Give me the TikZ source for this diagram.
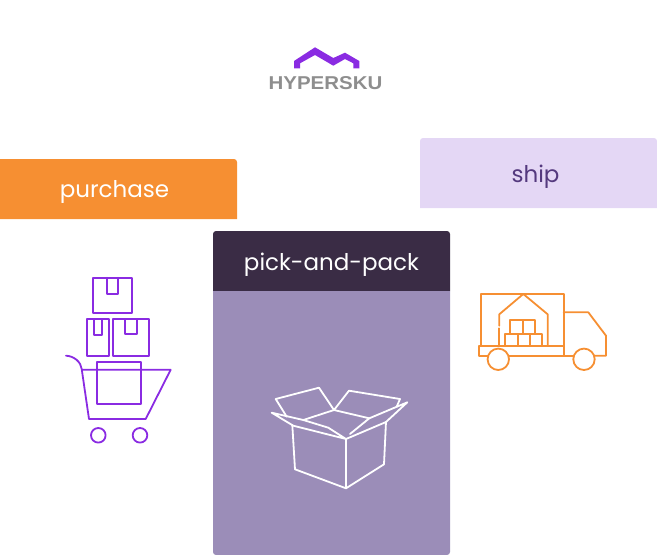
\documentclass[tikz,border=0pt]{standalone}
\usepackage{fontspec}
\setmainfont{Poppins}
\newfontfamily\logofont{Liberation Sans}
\definecolor{logopurple}{HTML}{8A2BE2}
\definecolor{logogray}{HTML}{8E8E8E}
\definecolor{purchasefill}{HTML}{F68F32}
\definecolor{shipfill}{HTML}{E4D7F5}
\definecolor{shiptext}{HTML}{54397E}
\definecolor{packhead}{HTML}{3A2C45}
\definecolor{packbody}{HTML}{9B8DB8}
\begin{document}
\begin{tikzpicture}[x=1pt,y=-1pt,line join=round,line cap=round,
  tab/.style={font=\fontsize{23}{28}\selectfont,inner sep=0pt,anchor=base},
  carticon/.style={draw=logopurple,line width=1.8pt},
  boxicon/.style={draw=white,line width=1.8pt},
  truckicon/.style={draw=purchasefill,line width=1.8pt}]
\useasboundingbox (0,0) rectangle (657,555);
% logo
\fill[logopurple] (294,68.3) -- (294,61) -- (315,47.3) -- (333.3,58) -- (345,52.7) -- (359.3,61)
  -- (359.3,68.3) -- (353.3,68.3) -- (353.3,63.3) -- (345,59) -- (333.3,65.7) -- (315,55)
  -- (300,63.3) -- (300,68.3) -- cycle;
\node (logo) at (325.5,83.5) [inner sep=0pt,text=logogray,xscale=1.1]
  {\logofont\bfseries\fontsize{18.6}{20}\selectfont HYPERSKU};
% tabs
\fill[purchasefill] (0,219) -- (0,159) [rounded corners=3] -- (237,159) [sharp corners] -- (237,219) -- cycle;
\fill[shipfill] (420,208) [rounded corners=3] -- (420,138) -- (657,138) [sharp corners] -- (657,208) -- cycle;
\fill[packhead] (213,291) [rounded corners=3] -- (213,231) -- (450,231) [sharp corners] -- (450,291) -- cycle;
\fill[packbody] (213,291) [rounded corners=3] -- (213,555) -- (450,555) [sharp corners] -- (450,291) -- cycle;
\node (purchase) at (114.5,197) [tab,text=white] {purchase};
\node (ship) at (535.5,182) [tab,text=shiptext] {ship};
\node (pack) at (331.5,270) [tab,text=white] {pick-and-pack};
% cart
\foreach \xa/\ya/\xb/\yb/\fa/\fb/\fy in
{92.7/277.7/132/313.3/106.7/118.3/293.7,
86.7/319/108.7/355.7/94/102.3/335.3,
112.7/319/148.7/355.7/125/137/334.3}
{
\draw[carticon] (\xa,\ya) rectangle (\xb,\yb);
\draw[carticon] (\fa,\ya) -- (\fa,\fy) -- (\fb,\fy) -- (\fb,\ya);
}
\draw[carticon] (97,361.7) rectangle (140.7,403.7);
\draw[carticon] (66,355.7) .. controls (74,356) and (81,362) .. (81.7,369) -- (89,419) -- (145.7,419)
  -- (170.7,369.7) -- (81.7,369.7);
\foreach \xa in {98.3,140}
\draw[carticon] (\xa,435.3) circle (7.3);
% open box
\draw[boxicon] (292.3,425) -- (295,469.3) -- (346,488.3) -- (384,464.3) -- (386,421.7);
\draw[boxicon] (346,439) -- (346,488.3);
\draw[boxicon] (346,439) -- (293.3,425.7) -- (271.7,412.7) -- (303.3,420) -- (328.3,427.7) -- (346,439);
\draw[boxicon] (346,439) -- (386,422) -- (407.3,402.3) -- (369.3,418.3) -- (350,434);
\draw[boxicon] (303.3,420) -- (334,410) -- (369.3,418.3);
\draw[boxicon] (286.7,416.7) -- (275.7,399) -- (319,387.7) -- (334,410) -- (349,390.7) -- (400,399) -- (396.7,406.7);
% truck
\draw[truckicon] (481,346) -- (481,294) -- (563.7,294) -- (563.7,355.7);
\draw[truckicon] (563.7,312.3) -- (588.3,312.3) -- (606,335.7) -- (606,355.7) -- (595,355.7);
\draw[truckicon] (573.3,355.7) -- (509.3,355.7);
\draw[truckicon] (488.3,355.7) -- (479,355.7) -- (479,346) -- (563.7,346);
\foreach \xa in {498.3,584}
\draw[truckicon] (\xa,359.3) circle (10.7);
\draw[truckicon] (499.3,346) -- (499.3,328.3);
\draw[truckicon] (499.3,325.7) -- (499.3,314.3) -- (523.3,294) -- (547.7,314.3) -- (547.7,346);
\foreach \xa/\xb in {505.3/517.7,517.7/530.3,530.3/542.3}
\draw[truckicon] (\xa,333.7) rectangle (\xb,346);
\foreach \xa/\xb in {510.3/522.7,522.7/534.7}
\draw[truckicon] (\xa,320) rectangle (\xb,333.7);
\end{tikzpicture}
\end{document}
